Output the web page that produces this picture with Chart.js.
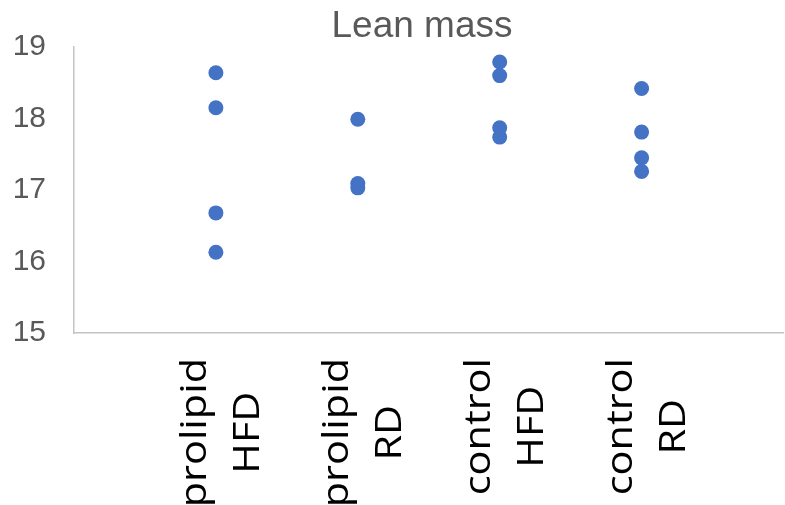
<!DOCTYPE html>
<html>
<head>
<meta charset="utf-8">
<script src="https://cdn.jsdelivr.net/npm/chart.js@4"></script>
<style>
  html, body { margin: 0; padding: 0; overflow: hidden; background: #fff; }
  #chart { display: block; }
</style>
</head>
<body>
<canvas id="chart" width="791" height="505"></canvas>
<script>
// categories (two-line labels) and the values of each group
const chartTitle = "Lean mass";
const categories = [["prolipid", "HFD"], ["prolipid", "RD"], ["control", "HFD"], ["control", "RD"]];
const prolipidHFD = [18.64, 18.15, 16.68, 16.13];
const prolipidRD = [17.99, 17.09, 17.03];
const controlHFD = [18.79, 18.60, 17.87, 17.74];
const controlRD = [18.42, 17.81, 17.45, 17.26];
const yTicks = [15, 16, 17, 18, 19];

const groups = [prolipidHFD, prolipidRD, controlHFD, controlRD];
var points = [];
groups.forEach(function(vals, i) {
    vals.forEach(function(v) { points.push({x: i + 1, y: v}); });
});

// title, centred a little right of the canvas middle like the original
const titlePlugin = {
    id: "titlePlugin",
    afterDraw(chart) {
        const ctx = chart.ctx;
        ctx.save();
        ctx.fillStyle = "#595959";
        ctx.font = '37px "Liberation Sans", Arial, sans-serif';
        ctx.textAlign = "center";
        ctx.textBaseline = "alphabetic";
        ctx.fillText(chartTitle, 422, 37);
        ctx.restore();
    }
};

// rotated category labels, lines centred on each other, block starting under the axis
const catLabels = {
    id: "catLabels",
    afterDraw(chart) {
        const ctx = chart.ctx;
        const xs = chart.scales.x;
        const stretch = 1.12;
        ctx.save();
        ctx.fillStyle = "#000";
        ctx.font = '37px "Open Sans"';
        ctx.textAlign = "center";
        ctx.textBaseline = "alphabetic";
        categories.forEach(function(lines, i) {
            const x = xs.getPixelForValue(i + 1);
            const w = Math.max(ctx.measureText(lines[0]).width, ctx.measureText(lines[1]).width) * stretch;
            ctx.save();
            ctx.translate(x, 358 + w / 2);
            ctx.rotate(-Math.PI / 2);
            ctx.scale(stretch, 1);
            ctx.fillText(lines[0], 0, -10);
            ctx.fillText(lines[1], 0, 43);
            ctx.restore();
        });
        ctx.restore();
    }
};

new Chart("chart", {
    type: "scatter",
    data: {
        datasets: [{
            data: points,
            backgroundColor: "#4472C4",
            borderWidth: 0,
            pointRadius: 7.5,
            pointHoverRadius: 7.5
        }]
    },
    options: {
        responsive: false,
        animation: false,
        layout: { padding: { left: 0, right: 0, top: 47, bottom: 0 } },
        plugins: {
            legend: { display: false },
            tooltip: { enabled: false },
            title: { display: false }
        },
        scales: {
            x: {
                type: "linear",
                min: 0,
                max: 5,
                grid: { display: false, drawTicks: false },
                border: { display: true, color: "#c4c4c4", width: 1.5 },
                ticks: { display: false },
                afterFit: function(s) { s.height = 172; }
            },
            y: {
                min: 15,
                max: 19,
                afterBuildTicks: function(s) { s.ticks = yTicks.map(v => ({value: v})); },
                grid: { display: false, drawTicks: false },
                border: { display: true, color: "#c4c4c4", width: 1.5 },
                ticks: {
                    color: "#595959",
                    padding: 28,
                    font: { family: '"Liberation Sans", Arial, sans-serif', size: 30 }
                },
                afterFit: function(s) { s.width = 74; }
            }
        }
    },
    plugins: [titlePlugin, catLabels]
});
</script>
</body>
</html>
